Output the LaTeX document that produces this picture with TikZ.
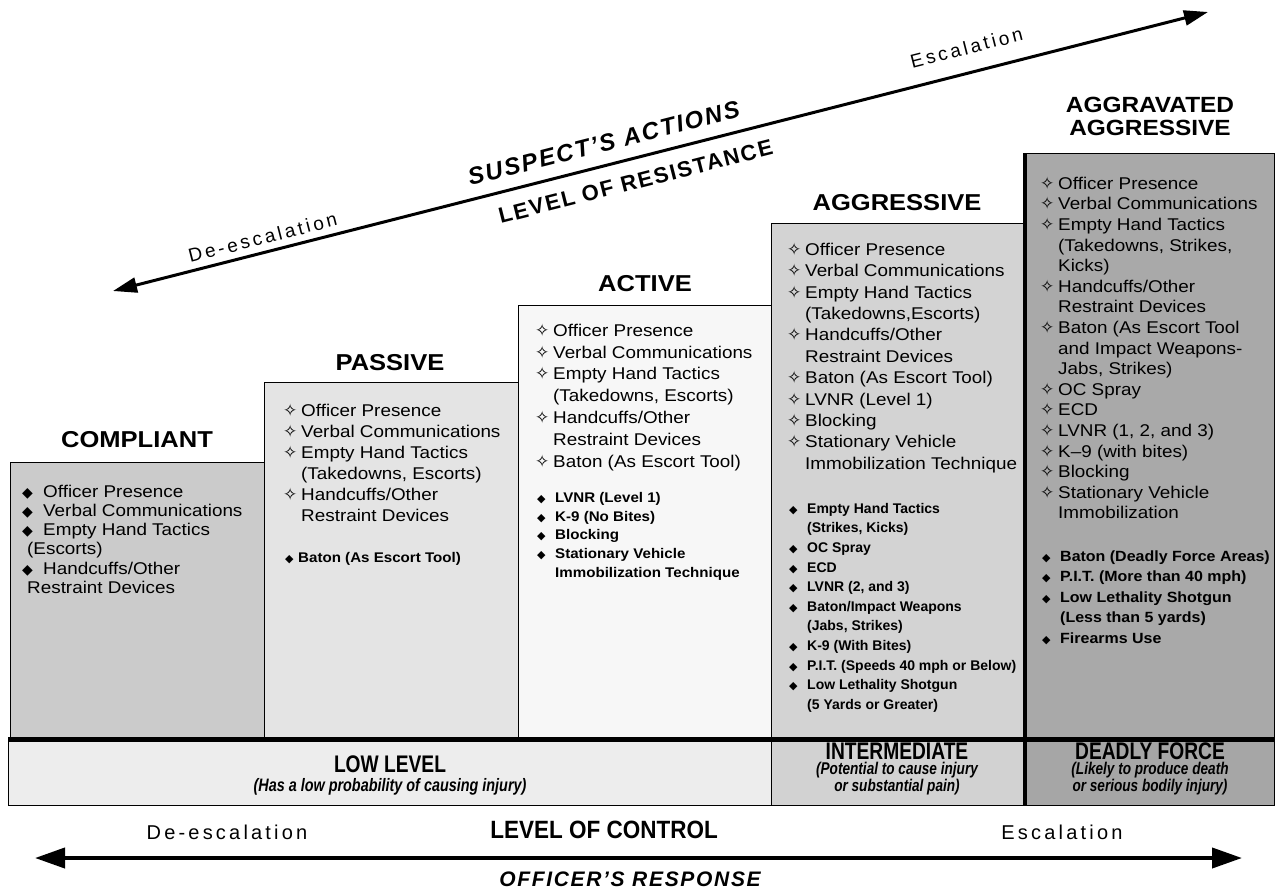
\documentclass[tikz,border=0pt]{standalone}
\usepackage{fontspec}
\setmainfont{Liberation Sans}[FakeStretch=1.11]
\newfontfamily\plainfont{Liberation Sans}
\newfontfamily\widefont{Liberation Sans}[FakeStretch=1.08]
\newfontfamily\spacedfont{Liberation Sans}[LetterSpace=16]
\newfontfamily\titlefont{Liberation Sans}[LetterSpace=8]
\newfontfamily\condfont{Liberation Sans}[FakeStretch=0.8]
\newfontfamily\ctrlfont{Liberation Sans}[FakeStretch=0.9]
\newfontfamily\symfont{DejaVu Sans}
\usetikzlibrary{arrows.meta,calc}
\definecolor{gCompl}{HTML}{CBCBCB}
\definecolor{gPass}{HTML}{E4E4E4}
\definecolor{gAct}{HTML}{F7F7F7}
\definecolor{gAggr}{HTML}{D3D3D3}
\definecolor{gAggv}{HTML}{A9A9A9}
\definecolor{gLow}{HTML}{EDEDED}
\definecolor{gInt}{HTML}{D2D2D2}
\definecolor{gDead}{HTML}{A6A6A6}
\newcommand{\firstrule}{\rule{0pt}{15pt}}
\newcommand{\cbul}{\makebox[21pt][l]{\symfont\fontsize{14}{14}\selectfont ◆}}
\newcommand{\hbul}{\makebox[18pt][l]{\symfont\fontsize{17}{17}\selectfont ✧}}
\newcommand{\bbul}{\makebox[18pt][l]{\symfont\fontsize{11}{11}\selectfont ◆}}
\newcommand{\cind}{\hspace*{18pt}}
\begin{document}
\begin{tikzpicture}[x=1pt,y=-1pt,
  box/.style={draw=black, line width=1.2pt, anchor=north west, inner sep=0pt},
  coltitle/.style={font=\bfseries\fontsize{23}{24}\selectfont, inner sep=0pt, align=center},
  list/.style={anchor=north west, inner sep=0pt, align=left},
  bandtitle/.style={font=\condfont\bfseries\fontsize{24}{24}\selectfont, inner sep=0pt},
  bandsub/.style={font=\condfont\bfseries\itshape\fontsize{17}{17}\selectfont, inner sep=0pt, align=center},
  dbl/.style={{Triangle[length=24pt,width=15pt]}-{Triangle[length=24pt,width=15pt]}},
  dblbig/.style={{Triangle[length=30pt,width=20pt]}-{Triangle[length=30pt,width=20pt]}},
  slopetxt/.style={rotate=14.3, inner sep=0pt}
]
\useasboundingbox (0,0) rectangle (1275,895);
% column boxes
\node[box, fill=gCompl, minimum width=254pt, minimum height=275pt] (complbox) at (10,462) {};
\node[box, fill=gPass, minimum width=254pt, minimum height=355pt] (passbox) at (264,382) {};
\node[box, fill=gAct, minimum width=253pt, minimum height=432pt] (actbox) at (518,305) {};
\node[box, fill=gAggr, minimum width=254pt, minimum height=514pt] (aggrbox) at (771,223) {};
\node[box, fill=gAggv, minimum width=249pt, minimum height=584pt] (aggvbox) at (1025,153) {};
% band
\node[box, fill=gLow, minimum width=763pt, minimum height=66pt] (lowband) at (8,739) {};
\node[box, fill=gInt, minimum width=254pt, minimum height=66pt] (intband) at (771,739) {};
\node[box, fill=gDead, minimum width=249pt, minimum height=66pt] (deadband) at (1025,739) {};
\draw[line width=5pt] (lowband.north west) -- (deadband.north east);
\draw[line width=3.5pt] (aggvbox.north west) -- (deadband.south west);
% titles
\node[coltitle] (t1) at (137,440) {COMPLIANT};
\node[coltitle] (t2) at (390,363) {PASSIVE};
\node[coltitle] (t3) at (645,284) {ACTIVE};
\node[coltitle] (t4) at (897,203) {AGGRESSIVE};
\node[coltitle, font=\bfseries\fontsize{22}{23}\selectfont] (t5) at (1150,116) {AGGRAVATED\\AGGRESSIVE};
% lists
\node[list, font=\fontsize{17}{19.2}\selectfont] (l1) at (22,482) {\firstrule\cbul Officer Presence\\\cbul Verbal Communications\\\cbul Empty Hand Tactics\\\hspace*{5pt}(Escorts)\\\cbul Handcuffs/Other\\\hspace*{5pt}Restraint Devices};
\node[list, font=\fontsize{17}{21}\selectfont] (l2) at (283,401) {\firstrule\hbul Officer Presence\\\hbul Verbal Communications\\\hbul Empty Hand Tactics\\\cind(Takedowns, Escorts)\\\hbul Handcuffs/Other\\\cind Restraint Devices};
\node[list, font=\widefont\bfseries\fontsize{14}{19}\selectfont] (l2b) at (285,547) {\firstrule\makebox[13pt][l]{\symfont\fontsize{11}{11}\selectfont ◆}Baton (As Escort Tool)};
\node[list, font=\fontsize{17}{21.8}\selectfont] (l3) at (535,321) {\firstrule\hbul Officer Presence\\\hbul Verbal Communications\\\hbul Empty Hand Tactics\\\cind(Takedowns, Escorts)\\\hbul Handcuffs/Other\\\cind Restraint Devices\\\hbul Baton (As Escort Tool)};
\node[list, font=\widefont\bfseries\fontsize{14}{18.8}\selectfont] (l3b) at (537,487) {\firstrule\bbul LVNR (Level 1)\\\bbul K-9 (No Bites)\\\bbul Blocking\\\bbul Stationary Vehicle\\\cind Immobilization Technique};
\node[list, font=\fontsize{17}{21.4}\selectfont] (l4) at (787,240) {\firstrule\hbul Officer Presence\\\hbul Verbal Communications\\\hbul Empty Hand Tactics\\\cind(Takedowns,Escorts)\\\hbul Handcuffs/Other\\\cind Restraint Devices\\\hbul Baton (As Escort Tool)\\\hbul LVNR (Level 1)\\\hbul Blocking\\\hbul Stationary Vehicle\\\cind Immobilization Technique};
\node[list, font=\plainfont\bfseries\fontsize{14}{19.6}\selectfont] (l4b) at (789,498) {\firstrule\bbul Empty Hand Tactics\\\cind(Strikes, Kicks)\\\bbul OC Spray\\\bbul ECD\\\bbul LVNR (2, and 3)\\\bbul Baton/Impact Weapons\\\cind(Jabs, Strikes)\\\bbul K-9 (With Bites)\\\bbul P.I.T. (Speeds 40 mph or Below)\\\bbul Low Lethality Shotgun\\\cind(5 Yards or Greater)};
\node[list, font=\fontsize{17}{20.6}\selectfont] (l5) at (1040,174) {\firstrule\hbul Officer Presence\\\hbul Verbal Communications\\\hbul Empty Hand Tactics\\\cind(Takedowns, Strikes,\\\cind Kicks)\\\hbul Handcuffs/Other\\\cind Restraint Devices\\\hbul Baton (As Escort Tool\\\cind and Impact Weapons-\\\cind Jabs, Strikes)\\\hbul OC Spray\\\hbul ECD\\\hbul LVNR (1, 2, and 3)\\\hbul K–9 (with bites)\\\hbul Blocking\\\hbul Stationary Vehicle\\\cind Immobilization};
\node[list, font=\widefont\bfseries\fontsize{14.8}{20.5}\selectfont] (l5b) at (1042,546) {\firstrule\bbul Baton (Deadly Force Areas)\\\bbul P.I.T. (More than 40 mph)\\\bbul Low Lethality Shotgun\\\cind(Less than 5 yards)\\\bbul Firearms Use};
% band texts
\node[bandtitle] (lowt) at (390,764) {LOW LEVEL};
\node[bandsub, font=\condfont\bfseries\itshape\fontsize{18}{18}\selectfont] (lows) at (390,787) {(Has a low probability of causing injury)};
\node[bandtitle] (intt) at (897,751) {INTERMEDIATE};
\node[bandsub] (ints) at (897,779) {(Potential to cause injury\\or substantial pain)};
\node[bandtitle] (deadt) at (1150,751) {DEADLY FORCE};
\node[bandsub] (deads) at (1150,779) {(Likely to produce death\\or serious bodily injury)};
% top arrow
\coordinate (tl) at (113,291);
\coordinate (tr) at (1208,12);
\draw[line width=3pt, dbl] (tl) -- (tr);
\node[slopetxt, font=\spacedfont\fontsize{19}{19}\selectfont] (deesc) at ($(tl)!0.14!(tr)+(-3.7,-14.5)$) {De-escalation};
\node[slopetxt, font=\titlefont\bfseries\itshape\fontsize{24}{24}\selectfont] (susp) at ($(tl)!0.453!(tr)+(-5.4,-21.3)$) {SUSPECT’S ACTIONS};
\node[slopetxt, font=\titlefont\bfseries\fontsize{22}{22}\selectfont] (lor) at ($(tl)!0.472!(tr)+(5.7,22.3)$) {LEVEL OF RESISTANCE};
\node[slopetxt, font=\spacedfont\fontsize{19}{19}\selectfont] (esc) at ($(tl)!0.785!(tr)+(-6.2,-24.2)$) {Escalation};
% bottom arrow
\coordinate (bl) at (35,858);
\coordinate (br) at (1242,858);
\draw[line width=4pt, dblbig] (bl) -- (br);
\node[font=\spacedfont\fontsize{20}{20}\selectfont, inner sep=0pt] (bdeesc) at (227,832) {De-escalation};
\node[font=\ctrlfont\bfseries\fontsize{25}{25}\selectfont, inner sep=0pt] (loc) at (604,830) {LEVEL OF CONTROL};
\node[font=\spacedfont\fontsize{20}{20}\selectfont, inner sep=0pt] (besc) at (1062,832) {Escalation};
\node[font=\titlefont\bfseries\itshape\fontsize{21}{21}\selectfont, inner sep=0pt] (resp) at (630,879) {OFFICER’S RESPONSE};
\end{tikzpicture}
\end{document}
